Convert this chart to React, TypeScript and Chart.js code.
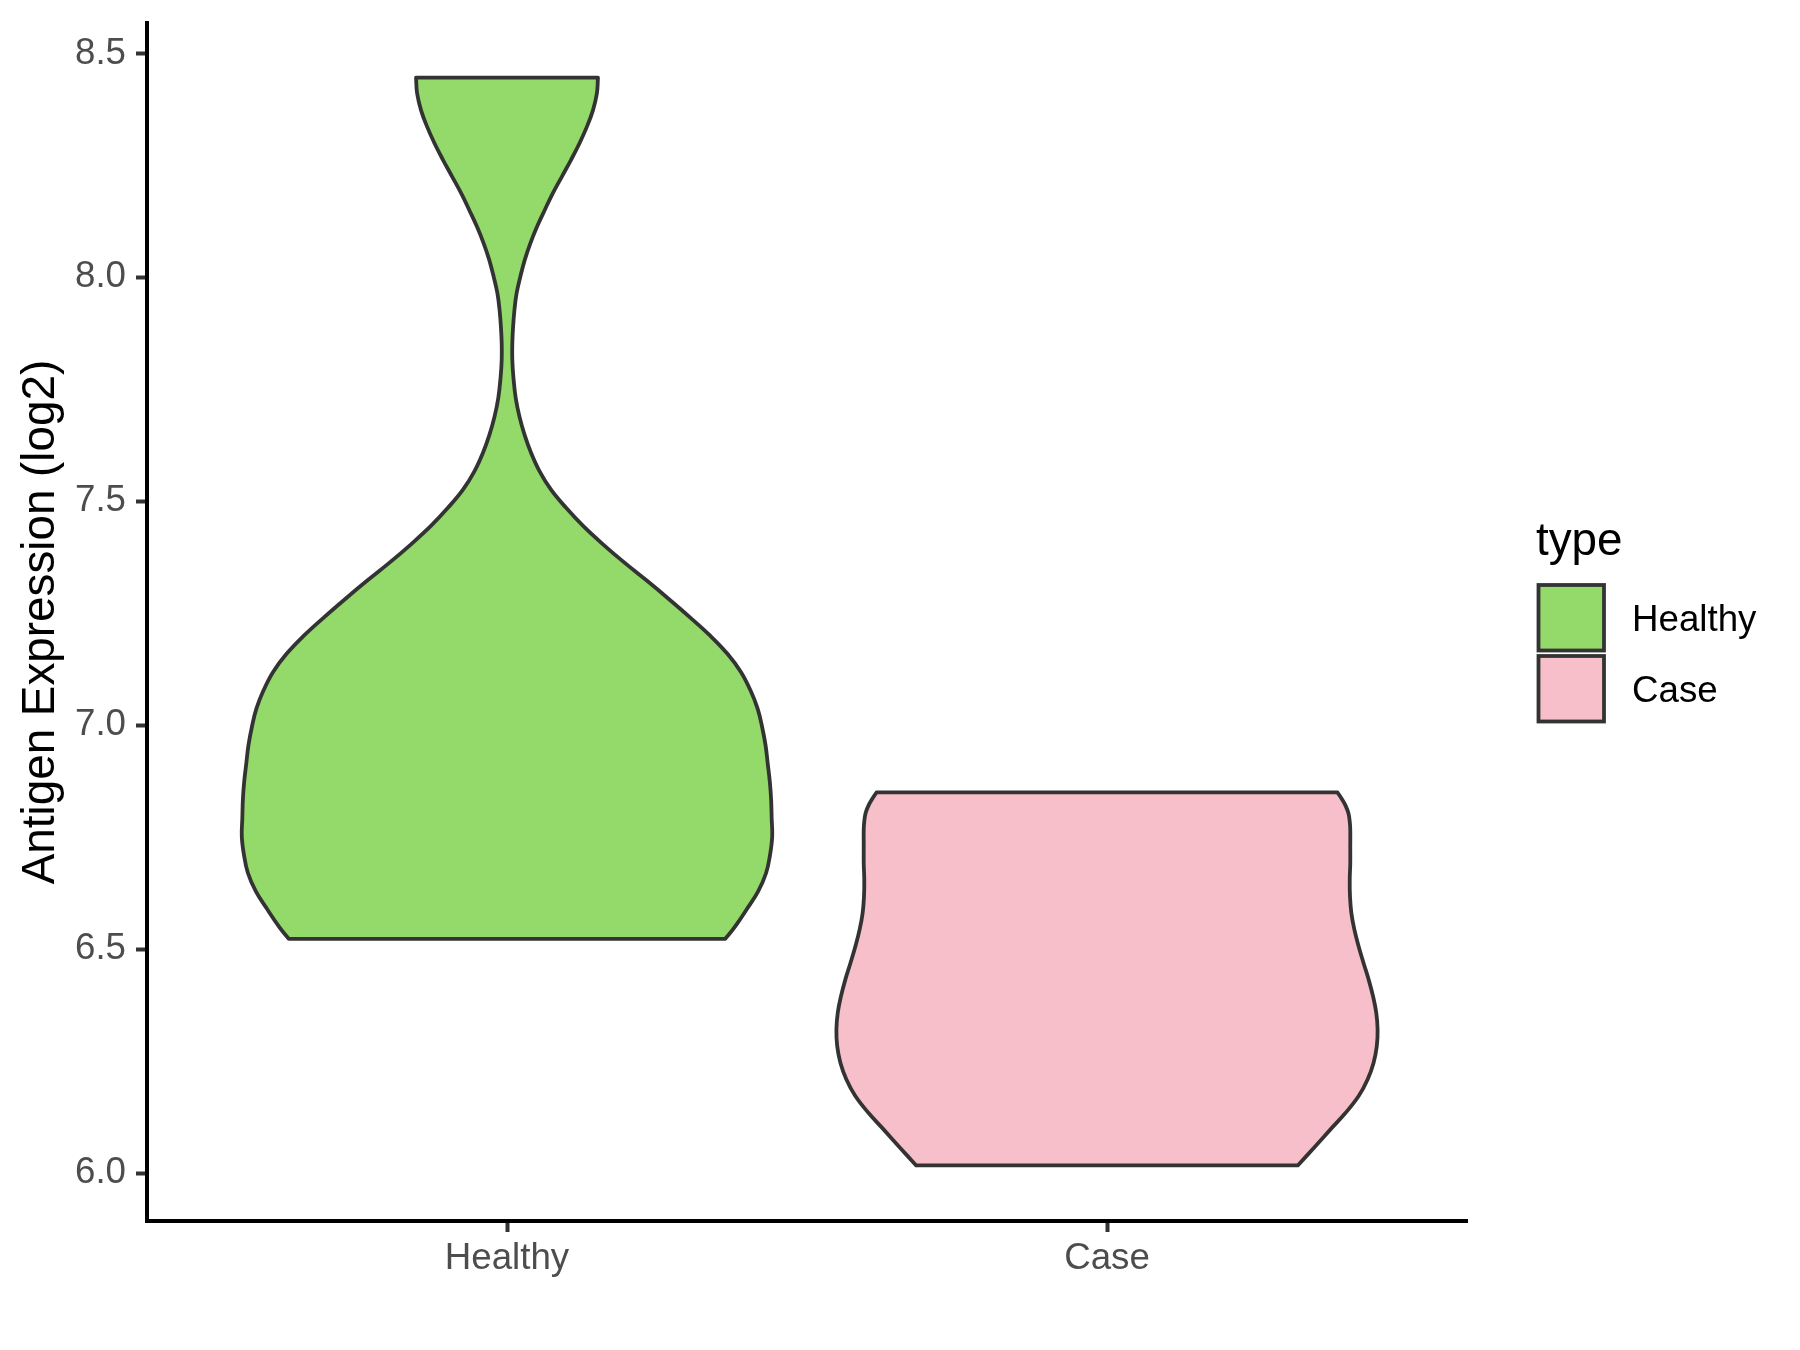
import React, { useEffect, useRef } from 'react';
import { Chart, registerables } from 'chart.js';

Chart.register(...registerables);

const FONT = "'Liberation Sans', Arial, Helvetica, sans-serif";

// ---- data ----
const categories = ['Healthy', 'Case'];
const xPositions = [1, 2];
const fillColors = ['#93DA6A', '#F7BFCA'];
const legendTitle = 'type';
const yAxisTitle = 'Antigen Expression (log2)';
const yTicks = [6.0, 6.5, 7.0, 7.5, 8.0, 8.5];
const yRange = [5.893, 8.568];
const xRange = [0.4, 2.6];

// violin outlines: value (log2) and relative density (max = 1)
const healthyValues = [6.523, 6.548, 6.589, 6.629, 6.670, 6.711, 6.752, 6.793, 6.833, 6.874, 6.915, 6.955, 6.996, 7.037, 7.078, 7.119, 7.159, 7.200, 7.241, 7.282, 7.323, 7.363, 7.404, 7.445, 7.486, 7.526, 7.567, 7.608, 7.649, 7.689, 7.730, 7.778, 7.816, 7.853, 7.890, 7.927, 7.964, 8.001, 8.039, 8.076, 8.113, 8.150, 8.188, 8.225, 8.262, 8.299, 8.336, 8.373, 8.411, 8.446];
const healthyDensity = [0.823, 0.857, 0.904, 0.947, 0.977, 0.992, 1.0, 0.998, 0.996, 0.991, 0.983, 0.975, 0.962, 0.945, 0.918, 0.882, 0.832, 0.766, 0.690, 0.610, 0.527, 0.443, 0.362, 0.287, 0.222, 0.166, 0.123, 0.091, 0.066, 0.047, 0.033, 0.024, 0.020, 0.020, 0.023, 0.028, 0.036, 0.050, 0.067, 0.088, 0.113, 0.142, 0.173, 0.207, 0.241, 0.273, 0.301, 0.324, 0.339, 0.343];
const caseValues = [6.017, 6.060, 6.097, 6.134, 6.172, 6.209, 6.246, 6.283, 6.320, 6.358, 6.395, 6.432, 6.469, 6.506, 6.544, 6.581, 6.618, 6.655, 6.692, 6.729, 6.767, 6.785, 6.804, 6.820, 6.834, 6.850];
const caseDensity = [0.705, 0.770, 0.825, 0.881, 0.930, 0.963, 0.985, 0.997, 1.0, 0.995, 0.983, 0.967, 0.948, 0.930, 0.914, 0.903, 0.898, 0.897, 0.899, 0.899, 0.899, 0.897, 0.892, 0.882, 0.869, 0.852];
const maxHalfWidth = [0.442, 0.451];

const violinValues = [healthyValues, caseValues];
const violinDensity = [healthyDensity, caseDensity];

function violinPoints(center: number, values: number[], density: number[], hw: number) {
  const n = values.length;
  const left = values.map((v, i) => ({ x: center - density[i] * hw, y: v }));
  const right = values.map((v, i) => ({ x: center + density[i] * hw, y: v }));
  const pts: { x: number; y: number }[] = [];
  left.forEach((p) => pts.push({ ...p }));
  pts.push({ ...left[n - 1] });
  pts.push({ ...right[n - 1] });
  for (let i = n - 1; i >= 0; i--) pts.push({ ...right[i] });
  pts.push({ ...right[0] });
  pts.push({ ...left[0] });
  return pts;
}

const violinFillPlugin = {
  id: 'violinFill',
  beforeDatasetDraw(chart: any, args: any) {
    const meta = args.meta;
    const line = meta.dataset;
    if (!line || !line.points || !line.points.length) return;
    const ds = chart.data.datasets[args.index];
    if (line.updateControlPoints) line.updateControlPoints(chart.chartArea, 'x');
    const ctx = chart.ctx;
    ctx.save();
    ctx.beginPath();
    line.path(ctx);
    ctx.closePath();
    ctx.fillStyle = ds.backgroundColor;
    ctx.fill();
    ctx.restore();
  },
};

const legendPlugin = {
  id: 'violinLegend',
  afterDraw(chart: any) {
    const ctx = chart.ctx;
    ctx.save();
    ctx.textAlign = 'left';
    ctx.textBaseline = 'alphabetic';
    ctx.fillStyle = '#000000';
    ctx.font = `45.8px ${FONT}`;
    ctx.fillText(legendTitle, 1536, 555);
    categories.forEach((c, i) => {
      const top = 585 + i * 71;
      ctx.fillStyle = fillColors[i];
      ctx.fillRect(1538.5, top, 65.5, 65.5);
      ctx.strokeStyle = '#333333';
      ctx.lineWidth = 3.8;
      ctx.strokeRect(1538.5, top, 65.5, 65.5);
      ctx.fillStyle = '#000000';
      ctx.font = `36.7px ${FONT}`;
      ctx.fillText(c, 1632, top + 46);
    });
    ctx.restore();
  },
};

export default function App() {
  const canvasRef = useRef<HTMLCanvasElement | null>(null);

  useEffect(() => {
    if (!canvasRef.current) return;
    const datasets = categories.map((c, i) => ({
      label: c,
      data: violinPoints(xPositions[i], violinValues[i], violinDensity[i], maxHalfWidth[i]),
      showLine: true,
      fill: false,
      backgroundColor: fillColors[i],
      borderColor: '#333333',
      borderWidth: 3.8,
      tension: 0.4,
      pointRadius: 0,
      pointHoverRadius: 0,
      borderJoinStyle: 'round',
      borderCapStyle: 'round',
    }));

    const chart = new Chart(canvasRef.current, {
      type: 'scatter',
      data: { datasets } as any,
      options: {
        animation: false,
        responsive: false,
        events: [],
        layout: { padding: { top: 23, right: 333, bottom: 0, left: 0 } },
        plugins: { legend: { display: false }, tooltip: { enabled: false } },
        scales: {
          x: {
            type: 'linear',
            min: xRange[0],
            max: xRange[1],
            afterBuildTicks: (scale: any) => {
              scale.ticks = xPositions.map((v) => ({ value: v }));
            },
            afterFit: (scale: any) => {
              scale.height = 129;
              scale.paddingLeft = 0;
              scale.paddingRight = 0;
            },
            ticks: {
              autoSkip: false,
              maxRotation: 0,
              padding: 5,
              color: '#4D4D4D',
              font: { size: 36.7, family: FONT },
              callback: (_v: any, index: number) => categories[index],
            },
            grid: {
              display: true,
              drawOnChartArea: false,
              drawTicks: true,
              tickLength: 11,
              tickColor: '#333333',
              tickWidth: 4,
            },
            border: { display: true, color: '#000000', width: 4 },
          },
          y: {
            type: 'linear',
            min: yRange[0],
            max: yRange[1],
            afterBuildTicks: (scale: any) => {
              scale.ticks = yTicks.map((v) => ({ value: v }));
            },
            afterFit: (scale: any) => {
              scale.width = 147;
              scale.paddingTop = 0;
              scale.paddingBottom = 0;
            },
            ticks: {
              autoSkip: false,
              padding: 10,
              color: '#4D4D4D',
              font: { size: 36.7, family: FONT },
              callback: (v: any) => Number(v).toFixed(1),
            },
            grid: {
              display: true,
              drawOnChartArea: false,
              drawTicks: true,
              tickLength: 11,
              tickColor: '#333333',
              tickWidth: 4,
            },
            border: { display: true, color: '#000000', width: 4 },
            title: {
              display: true,
              text: yAxisTitle,
              color: '#000000',
              font: { size: 45.8, family: FONT },
              padding: { top: 14, bottom: 0 },
            },
          },
        },
      } as any,
      plugins: [violinFillPlugin, legendPlugin],
    });
    return () => chart.destroy();
  }, []);

  return (
    <div style={{ position: 'absolute', left: 0, top: 0, width: 1800, height: 1350, background: '#ffffff' }}>
      <canvas ref={canvasRef} width={1800} height={1350} style={{ display: 'block' }} />
    </div>
  );
}
